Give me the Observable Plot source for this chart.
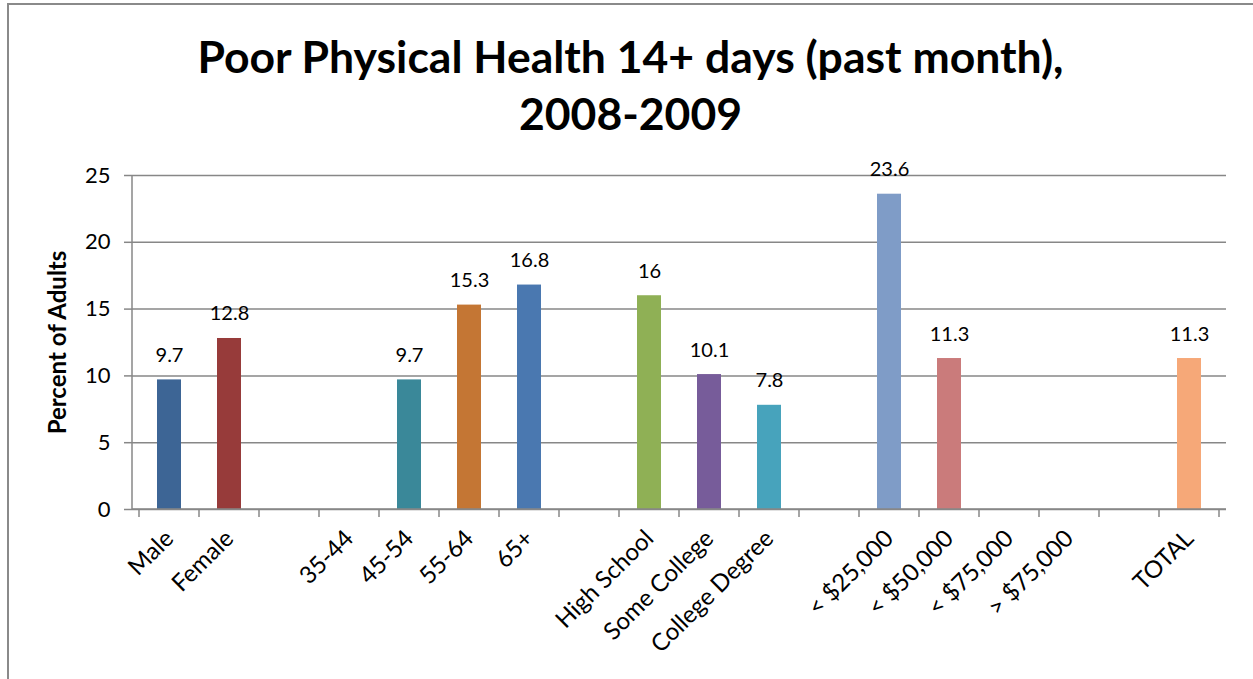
<!DOCTYPE html>
<html><head><meta charset="utf-8">
<script src="https://cdn.jsdelivr.net/npm/d3@7"></script>
<script src="https://cdn.jsdelivr.net/npm/@observablehq/plot@0.6"></script>
<style>
html,body{margin:0;padding:0;background:#fff;overflow:hidden;}
#wrap{position:relative;width:1253px;height:679px;overflow:hidden;}
#border{position:absolute;left:7px;top:3px;width:1270px;height:720px;border:2px solid #8a8a8a;box-sizing:border-box;}
#title{position:absolute;left:8px;top:27px;width:1245px;text-align:center;font-family:Lato,sans-serif;font-weight:bold;font-size:44.5px;line-height:57px;color:#000;}
#chart{position:absolute;left:0;top:150px;}
</style>
</head><body>
<div id="wrap">
<div id="border"></div>
<div id="title">Poor Physical Health 14+ days (past month),<br>2008-2009</div>
<div id="chart"></div>
</div>
<script>
const categories = ["Male","Female","gap1","35-44","45-54","55-64","65+","gap2","High School","Some College","College Degree","gap3","< $25,000","< $50,000","< $75,000","> $75,000","gap4","TOTAL"];
const tickLabels = ["Male","Female","","35-44","45-54","55-64","65+","","High School","Some College","College Degree","","< $25,000","< $50,000","< $75,000","> $75,000","","TOTAL"];
const values = [9.7,12.8,null,null,9.7,15.3,16.8,null,16,10.1,7.8,null,23.6,11.3,null,null,null,11.3];
const colors = ["#3D6595","#973B3A","none","none","#3A8899","#C47634","#4A78B0","none","#8FB055","#775C9A","#47A3BC","none","#7F9CC7","#CA7B7B","none","none","none","#F6A878"];
const yTicks = [0,5,10,15,20,25];
const yLabel = "Percent of Adults";

const data = categories.map((c,i)=>({cat:c, value:values[i], color:colors[i]})).filter(d=>d.value!=null);
const gray = "#878787";

function axisLines(index, scales, values, dims) {
  const x0 = dims.marginLeft, x1 = dims.width - dims.marginRight;
  const y0 = scales.y(0), yTop = scales.y(yTicks[yTicks.length-1]);
  const g = d3.create("svg:g").attr("stroke", gray).attr("stroke-width", 1.5);
  g.append("line").attr("x1",x0).attr("x2",x1).attr("y1",y0).attr("y2",y0);
  g.append("line").attr("x1",x0).attr("x2",x0).attr("y1",y0).attr("y2",yTop);
  const bw = scales.x.bandwidth();
  const bounds = categories.map(c=>scales.x(c)).concat([scales.x(categories[categories.length-1]) + bw]);
  for (const b of bounds) g.append("line").attr("x1",b).attr("x2",b).attr("y1",y0).attr("y2",y0+8);
  return g.node();
}

const plot = Plot.plot({
  width:1253, height:529, marginTop:25, marginBottom:170, marginLeft:132, marginRight:27,
  style:{fontFamily:"Lato, sans-serif", fontSize:"22px", color:"#000", background:"transparent"},
  x:{type:"band", domain:categories, padding:0, label:null},
  y:{domain:[0,25], label:null},
  marks:[
    Plot.gridY(yTicks,{stroke:gray, strokeOpacity:1, strokeWidth:1.5}),
    Plot.axisY(yTicks,{tickSize:8, tickPadding:14, stroke:gray, strokeWidth:1.5, strokeOpacity:1, fontSize:22, fill:"#000", label:null}),
    Plot.axisX({tickSize:0, tickRotate:-45, tickPadding:25, tickFormat:d=>tickLabels[categories.indexOf(d)], fontSize:24, fill:"#000", label:null}),
    Plot.barY(data,{x:"cat", y:"value", fill:"color", insetLeft:18, insetRight:18}),
    Plot.text(data,{x:"cat", y:"value", text:d=>String(d.value), dy:-18, lineAnchor:"bottom", fontSize:20, fill:"#000"}),
    Plot.text([yLabel],{frameAnchor:"left", dx:-74, rotate:-90, textAnchor:"middle", text:d=>d, fontWeight:"bold", fontSize:24, fill:"#000"}),
    axisLines
  ]
});
document.getElementById("chart").appendChild(plot);
</script>
</body></html>
